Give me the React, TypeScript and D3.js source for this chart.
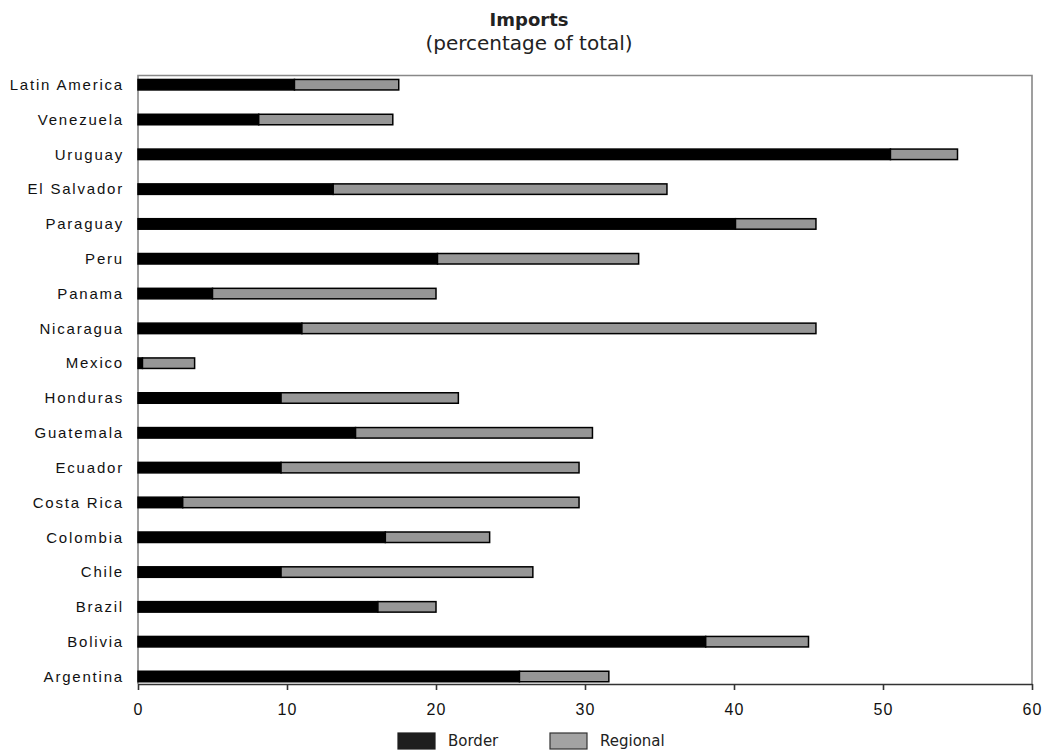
import React, { useEffect, useRef } from "react";
import * as d3 from "d3";

const categories = [
  "Latin America", "Venezuela", "Uruguay", "El Salvador", "Paraguay", "Peru",
  "Panama", "Nicaragua", "Mexico", "Honduras", "Guatemala", "Ecuador",
  "Costa Rica", "Colombia", "Chile", "Brazil", "Bolivia", "Argentina",
];
const borderValues = [
  10.5, 8.1, 50.5, 13.1, 40.1, 20.1, 5.0, 11.0, 0.3, 9.6, 14.6, 9.6, 3.0, 16.6, 9.6, 16.1, 38.1, 25.6,
];
const regionalValues = [
  7.0, 9.0, 4.5, 22.4, 5.4, 13.5, 15.0, 34.5, 3.5, 11.9, 15.9, 20.0, 26.6, 7.0, 16.9, 3.9, 6.9, 6.0,
];
const xTicks = [0, 10, 20, 30, 40, 50, 60];
const seriesNames = ["Border", "Regional"];
const titleText = "Imports";
const subtitleText = "(percentage of total)";

const W = 1048;
const H = 752;

export default function App() {
  const ref = useRef<SVGSVGElement | null>(null);

  useEffect(() => {
    const svg = d3.select(ref.current);
    svg.selectAll("*").remove();

    const left = 138, right = 1032, top = 75.5, axisY = 684;
    const x = d3.scaleLinear().domain([0, 60]).range([left, right]);
    const y = d3.scalePoint<string>().domain(categories).range([84.7, 676.5]);
    const barH = 10.5;

    svg.append("rect").attr("width", W).attr("height", H).attr("fill", "#fff");

    // title
    svg.append("text").attr("x", 529).attr("y", 26).attr("text-anchor", "middle")
      .attr("font-family", "DejaVu Sans").attr("font-weight", "bold").attr("font-size", 18)
      .attr("fill", "#222").text(titleText);
    svg.append("text").attr("x", 529).attr("y", 50).attr("text-anchor", "middle")
      .attr("font-family", "DejaVu Sans").attr("font-size", 20)
      .attr("fill", "#222").text(subtitleText);

    // plot frame
    svg.append("path")
      .attr("d", `M${left},${axisY} V${top} H${right} V${axisY}`)
      .attr("fill", "none").attr("stroke", "#888").attr("stroke-width", 1.6);

    // bars
    const g = svg.append("g");
    categories.forEach((c, i) => {
      const cy = y(c)!;
      const b = borderValues[i];
      const r = regionalValues[i];
      g.append("rect")
        .attr("x", x(0)).attr("y", cy - barH / 2)
        .attr("width", x(b) - x(0)).attr("height", barH)
        .attr("fill", "#000").attr("stroke", "#000").attr("stroke-width", 1.5);
      g.append("rect")
        .attr("x", x(b)).attr("y", cy - barH / 2)
        .attr("width", x(b + r) - x(b)).attr("height", barH)
        .attr("fill", "#969696").attr("stroke", "#000").attr("stroke-width", 1.5);
    });

    // category labels
    svg.append("g").selectAll("text").data(categories).join("text")
      .attr("x", 124).attr("y", (d) => y(d)!)
      .attr("dy", "0.35em").attr("text-anchor", "end")
      .attr("font-family", "Liberation Sans").attr("font-size", 15)
      .attr("letter-spacing", "1.8px").attr("fill", "#111")
      .text((d) => d);

    // x axis
    const axis = d3.axisBottom(x).tickValues(xTicks).tickSize(6).tickSizeOuter(0).tickPadding(14)
      .tickFormat((d) => String(d));
    const ax = svg.append("g").attr("transform", `translate(0,${axisY})`).call(axis as any);
    ax.select(".domain").attr("stroke", "#333").attr("stroke-width", 1.6);
    ax.selectAll(".tick line").attr("stroke", "#333").attr("stroke-width", 1.6);
    ax.selectAll(".tick text").attr("font-family", "Liberation Sans").attr("font-size", 16)
      .attr("letter-spacing", "1.2px").attr("fill", "#111");

    // legend
    const lg = svg.append("g");
    const items = [
      { name: seriesNames[0], fill: "#1e1e1e", stroke: "#1e1e1e", x: 398 },
      { name: seriesNames[1], fill: "#a3a3a3", stroke: "#333", x: 550 },
    ];
    items.forEach((it) => {
      lg.append("rect").attr("x", it.x).attr("y", 733).attr("width", 37).attr("height", 16)
        .attr("fill", it.fill).attr("stroke", it.stroke).attr("stroke-width", 1.2);
      lg.append("text").attr("x", it.x + 50).attr("y", 746)
        .attr("font-family", "DejaVu Sans").attr("font-size", 15).attr("fill", "#222")
        .text(it.name);
    });
  }, []);

  return (
    <svg ref={ref} width={W} height={H}
      style={{ position: "absolute", left: 0, top: 0, display: "block" }} />
  );
}
